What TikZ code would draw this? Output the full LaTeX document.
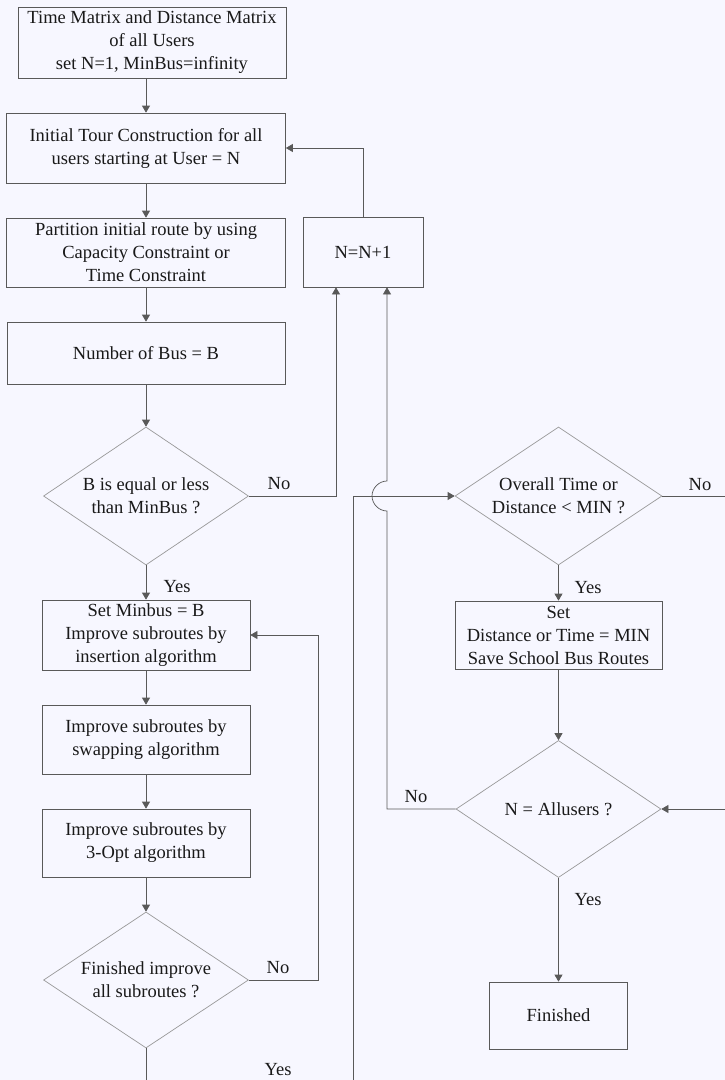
\documentclass[tikz,border=0pt]{standalone}
\usepackage{fontspec}
\setmainfont{Liberation Serif}
\usetikzlibrary{shapes.geometric,arrows.meta}

\begin{document}
\begin{tikzpicture}[x=1pt,y=-1pt,
  every node/.style={font=\fontsize{18.5pt}{23pt}\selectfont, text=black!90},
  proc/.style={draw=black!65, line width=0.7pt, align=center, inner sep=0pt},
  dec/.style={draw=black!40, line width=0.7pt, diamond, inner sep=0pt},
  dectext/.style={label={[align=center, inner sep=0pt]center:#1}},
  link/.style={draw=black!65, line width=0.7pt},
  arr/.style={link, -{Triangle[length=7pt,width=8pt]}},
  lbl/.style={inner sep=0pt}]

% page and clipping frame
\fill[white!97!blue] (0,0) rectangle (725,1080);
\clip (0,0) rectangle (725,1080);

% left column: tour construction and improvement
\node[proc, minimum width=268pt, minimum height=71pt] (start) at (152,42.5)
  {Time Matrix and Distance Matrix\\of all Users\\set N=1, MinBus=infinity};
\node[proc, minimum width=279pt, minimum height=70pt] (tour) at (146,148)
  {Initial Tour Construction for all\\users starting at User = N};
\node[proc, minimum width=279pt, minimum height=69pt] (part) at (146,252.5)
  {Partition initial route by using\\Capacity Constraint or\\Time Constraint};
\node[proc, minimum width=120pt, minimum height=70pt] (inc) at (363,252) {N=N+1};
\node[proc, minimum width=278pt, minimum height=62pt] (bus) at (146,353) {Number of Bus = B};
\node[dec, minimum width=205pt, minimum height=138pt,
  dectext={B is equal or less\\than MinBus ?}] (dbus) at (146,496) {};
\node[proc, minimum width=208pt, minimum height=70pt] (ins) at (146,635)
  {Set Minbus = B\\Improve subroutes by\\insertion algorithm};
\node[proc, minimum width=208pt, minimum height=69pt] (swap) at (146,739.5)
  {Improve subroutes by\\swapping algorithm};
\node[proc, minimum width=208pt, minimum height=68pt] (opt) at (146,843)
  {Improve subroutes by\\3-Opt algorithm};
\node[dec, minimum width=205pt, minimum height=136pt,
  dectext={Finished improve\\all subroutes ?}] (dsub) at (146,980) {};

% right column: best solution bookkeeping
\node[dec, minimum width=207pt, minimum height=138pt,
  dectext={Overall Time or\\Distance < MIN ?}] (dmin) at (558.5,496) {};
\node[proc, minimum width=207pt, minimum height=68pt] (save) at (558.5,635)
  {Set\\Distance or Time = MIN\\Save School Bus Routes};
\node[dec, minimum width=205pt, minimum height=137pt,
  dectext={N = Allusers ?}] (dall) at (558.5,809) {};
\node[proc, minimum width=138pt, minimum height=67pt] (fin) at (558.5,1015.5) {Finished};

% branch labels
\node[lbl] (no1) at (279,484) {No};
\node[lbl] (yes1) at (177,587) {Yes};
\node[lbl] (no2) at (278,968) {No};
\node[lbl] (yes2) at (278,1070) {Yes};
\node[lbl] (no3) at (700,485) {No};
\node[lbl] (yes3) at (588,588) {Yes};
\node[lbl] (no4) at (416,797) {No};
\node[lbl] (yes4) at (588,900) {Yes};

% straight flow
\draw[arr] (tour.north |- start.south) -- (tour.north);
\draw[arr] (tour.south) -- (part.north);
\draw[arr] (part.south) -- (bus.north);
\draw[arr] (bus.south) -- (dbus.north);
\draw[arr] (dbus.south) -- (ins.north);
\draw[arr] (ins.south) -- (swap.north);
\draw[arr] (swap.south) -- (opt.north);
\draw[arr] (opt.south) -- (dsub.north);
\draw[arr] (dmin.south) -- (save.north);
\draw[arr] (save.south) -- (dall.north);
\draw[arr] (dall.south) -- (fin.north);

% loop routing points
\coordinate (busNo) at (336,496);
\coordinate (subNo) at (318,980);
\coordinate (subYesA) at (146,1095);
\coordinate (subYesB) at (353,1095);
\coordinate (minNo) at (745,496);
\coordinate (allNo) at (387,809);
\coordinate (hopLow) at (387,511);
\coordinate (hopHigh) at (387,481);

% loops back
\draw[arr] (dbus.east) -- (busNo) -- (busNo |- inc.south);
\draw[arr] (inc.north) |- (tour.east);
\draw[arr] (dsub.east) -- (subNo) -- (subNo |- ins.east) -- (ins.east);
\draw[arr] (dsub.south) -- (subYesA) -- (subYesB) -- (subYesB |- dmin.west) -- (dmin.west);
\draw[arr] (dmin.east) -- (minNo) -- (minNo |- dall.east) -- (dall.east);
\draw[arr] (dall.west) -- (allNo) -- (hopLow)
  .. controls (379,511) and (372,504) .. (372,496)
  .. controls (372,488) and (379,481) .. (hopHigh)
  -- (hopHigh |- inc.south);
\end{tikzpicture}
\end{document}
